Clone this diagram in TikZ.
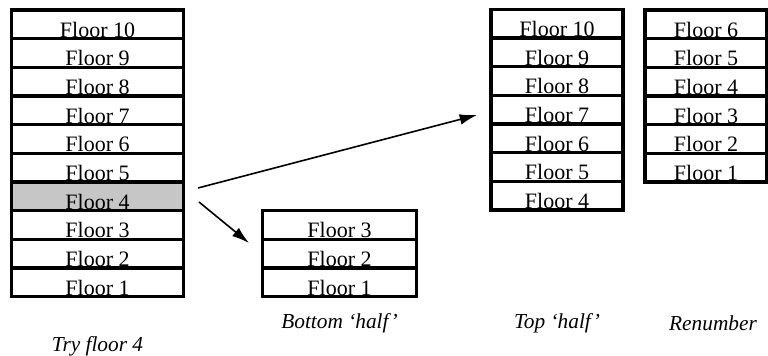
\documentclass[tikz,border=0pt]{standalone}
\usepackage{fontspec}
\setmainfont{Liberation Serif}
\usetikzlibrary{arrows.meta}

\tikzset{
  floorcell/.style={draw, line width=2.4pt, outer sep=0pt, inner sep=0pt,
    minimum height=21.5pt, text height=20.3pt, text depth=1.2pt,
    font=\fontsize{16.5}{16.5}\selectfont},
  caption/.style={font=\fontsize{16}{16}\selectfont\itshape},
  move/.style={-{Latex[length=13pt,width=8pt]}, line width=1.2pt}
}

\begin{document}
\begin{tikzpicture}[x=0.75pt,y=-0.75pt]
\useasboundingbox (0,0) rectangle (768,356);
% try floor 4
\foreach \n/\tint in {1/white,2/white,3/white,4/gray!45,5/white,6/white,7/white,8/white,9/white,10/white}
  \node[floorcell, fill=\tint, minimum width=129pt] (try\n) at (97.5,{296.7-(\n-0.5)*28.67}) {Floor \n};
% bottom half
\foreach \n in {1,2,3}
  \node[floorcell, minimum width=115.5pt] (half\n) at (339.5,{296.7-(\n-0.5)*28.67}) {Floor \n};
% top half
\foreach \n in {4,...,10}
  \node[floorcell, minimum width=99pt] (top\n) at (557,{210-(\n-3.5)*28.67}) {Floor \n};
% renumbered
\foreach \n in {1,...,6}
  \node[floorcell, minimum width=91.5pt] (new\n) at (706,{182-(\n-0.5)*28.67}) {Floor \n};

\coordinate (upfrom) at (198,188);
\coordinate (upto) at (477,115);
\coordinate (downfrom) at (199,202);
\coordinate (downto) at (249,243);
\draw[move] (upfrom) -- (upto);
\draw[move] (downfrom) -- (downto);

\node[caption] (capTry) at (97.5,346) {Try floor 4};
\node[caption] (capBottom) at (339.5,323) {Bottom ‘half’};
\node[caption] (capTop) at (557,323) {Top ‘half’};
\node[caption] (capNew) at (713,323) {Renumber};
\end{tikzpicture}
\end{document}
